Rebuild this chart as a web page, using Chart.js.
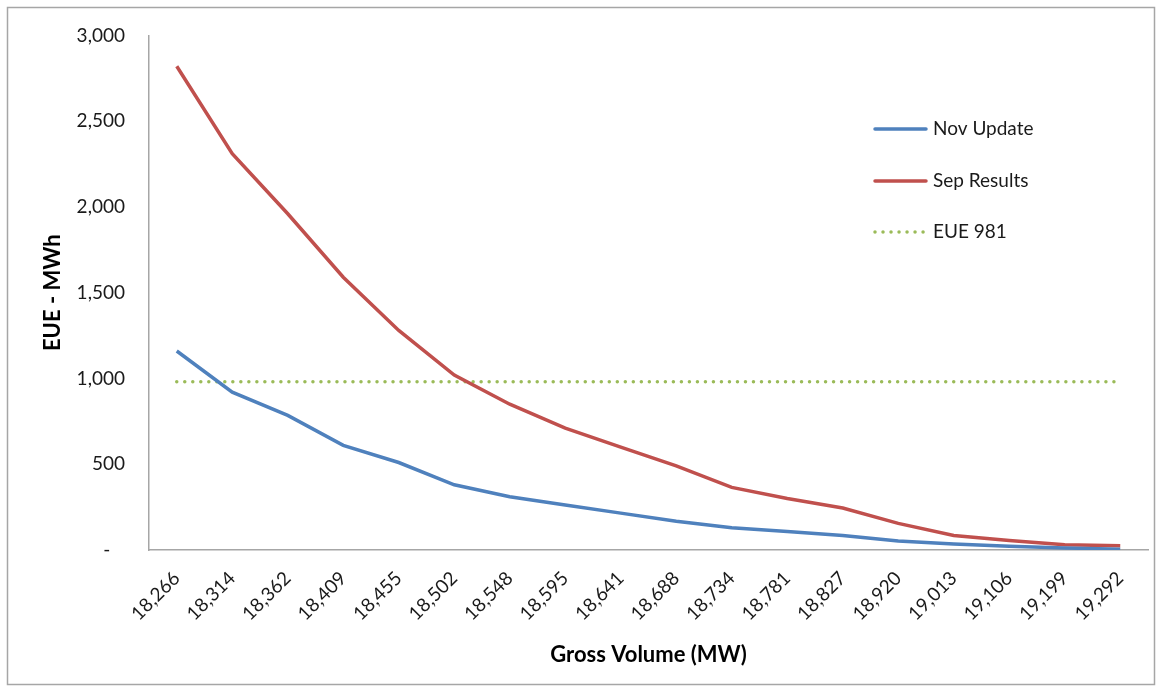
<!DOCTYPE html>
<html>
<head>
<meta charset="utf-8">
<script src="https://cdn.jsdelivr.net/npm/chart.js@4/dist/chart.umd.min.js"></script>
<style>
  html, body { margin: 0; padding: 0; background: #fff; }
  #wrap { position: absolute; left: 0; top: 0; width: 1161px; height: 687px; }
</style>
</head>
<body>
<div id="wrap"><canvas id="c" width="1161" height="687"></canvas></div>
<script>
const categories = ["18,266","18,314","18,362","18,409","18,455","18,502","18,548","18,595","18,641","18,688","18,734","18,781","18,827","18,920","19,013","19,106","19,199","19,292"];
const novUpdate = [1160, 920, 785, 610, 510, 380, 310, 262, 215, 168, 130, 108, 85, 52, 35, 22, 12, 5];
const sepResults = [2820, 2310, 1960, 1590, 1280, 1020, 850, 710, 600, 490, 365, 300, 245, 155, 85, 55, 30, 25];
const eue981 = [981, 981, 981, 981, 981, 981, 981, 981, 981, 981, 981, 981, 981, 981, 981, 981, 981, 981];
const seriesNames = ["Nov Update", "Sep Results", "EUE 981"];
const yTicks = [0, 500, 1000, 1500, 2000, 2500, 3000];

const FONT = "Lato, 'Open Sans', sans-serif";

const frameAndLegend = {
  id: 'frameAndLegend',
  afterDraw(chart) {
    const ctx = chart.ctx;
    ctx.save();
    ctx.strokeStyle = '#a6a6a6';
    ctx.lineWidth = 1.5;
    ctx.strokeRect(7.5, 7.5, 1147, 677);
    // legend
    const ys = [129, 181, 232];
    chart.data.datasets.forEach((ds, i) => {
      const y = ys[i];
      const dotted = ds.borderDash.length > 0;
      ctx.beginPath();
      ctx.strokeStyle = ds.borderColor;
      ctx.lineWidth = 3.5;
      ctx.lineCap = 'round';
      ctx.setLineDash(dotted ? [0.01, 8] : []);
      ctx.moveTo(875, y);
      ctx.lineTo(926, y);
      ctx.stroke();
      ctx.setLineDash([]);
      ctx.fillStyle = '#1a1a1a';
      ctx.font = "19px " + FONT;
      ctx.textAlign = 'left';
      ctx.textBaseline = 'middle';
      ctx.fillText(ds.label, 933, y);
    });
    ctx.restore();
  }
};

new Chart(document.getElementById('c'), {
  type: 'line',
  data: {
    labels: categories,
    datasets: [
      { label: seriesNames[0], data: novUpdate, borderColor: '#4f81bd', borderWidth: 3.5, pointRadius: 0, tension: 0, borderDash: [] },
      { label: seriesNames[1], data: sepResults, borderColor: '#c0504d', borderWidth: 3.5, pointRadius: 0, tension: 0, borderDash: [] },
      { label: seriesNames[2], data: eue981, borderColor: '#9bbb59', borderWidth: 3.5, pointRadius: 0, tension: 0, borderDash: [0.01, 8], borderCapStyle: 'round' }
    ]
  },
  options: {
    responsive: false,
    animation: false,
    devicePixelRatio: 1,
    layout: { padding: { left: 0, right: 13, top: 33, bottom: 0 } },
    plugins: { legend: { display: false }, tooltip: { enabled: false } },
    scales: {
      x: {
        offset: true,
        grid: { display: false, drawTicks: false },
        border: { display: true, color: '#a6a6a6', width: 1.5 },
        ticks: { color: '#1a1a1a', font: { family: FONT, size: 19 }, minRotation: 45, maxRotation: 45, padding: 17, autoSkip: false },
        title: { display: true, text: 'Gross Volume (MW)', color: '#000', font: { family: FONT, size: 22, weight: 'bold' }, padding: { top: 0, bottom: 19 } },
        afterFit(scale) { scale.height = 137; }
      },
      y: {
        min: 0, max: 3000,
        afterBuildTicks(scale) { scale.ticks = yTicks.map(v => ({ value: v })); },
        grid: { display: false, drawTicks: false },
        border: { display: true, color: '#a6a6a6', width: 1.5 },
        ticks: {
          color: '#1a1a1a', font: { family: FONT, size: 19 }, padding: 24,
          callback: (v) => v === 0 ? '-   ' : v.toLocaleString('en-US')
        },
        title: { display: true, text: 'EUE - MWh', color: '#000', font: { family: FONT, size: 22, weight: 'bold' }, padding: { top: 40, bottom: 0 } },
        afterFit(scale) { scale.width = 149; }
      }
    }
  },
  plugins: [frameAndLegend]
});
</script>
</body>
</html>
